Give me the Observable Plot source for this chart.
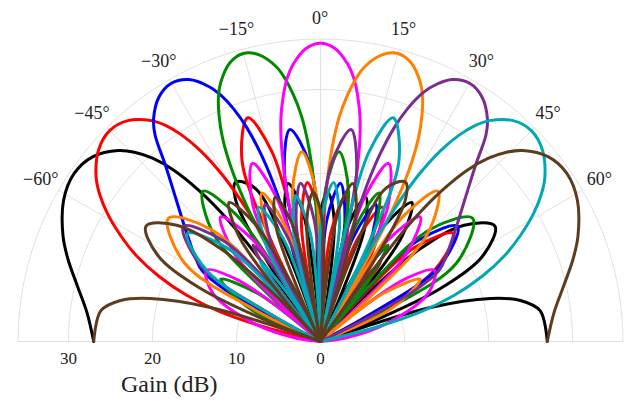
<!DOCTYPE html>
<html><head><meta charset="utf-8">
<script src="https://cdn.jsdelivr.net/npm/d3@7"></script>
<script src="https://cdn.jsdelivr.net/npm/@observablehq/plot@0.6"></script>
<style>html,body{margin:0;padding:0;background:#fff}</style>
</head><body><div id="chart"></div>
<script>
// Steering directions (degrees) of the nine beams
const beamAngles = [-60, -45, -30, -15, 0, 15, 30, 45, 60];
const beamColors = ["#000000", "#ff0000", "#0000ff", "#008a00", "#ff00ff", "#ff7f00", "#7b2d8e", "#00a8b5", "#5e3c1e"];

// Each beam: [angle (deg), gain (dB, clipped at 0)]
const beamM60 = [[90,27],[82,26.4],[78.4,24.3],[75.8,20.9],[72.8,13.7],[70.5,0],
[68.5,8],[66,16],[62,22],[56.5,24.9],[51,22],[47,16],[44.5,8],[43,0],
[40.8,7],[37.7,16],[33.3,19.8],[29.1,16],[26.4,7],[25.1,0],
[23.8,5.6],[21.2,14.6],[17.4,18],[13.7,14.6],[11.2,5.6],[10,0],
[8.9,5.6],[6.4,14.6],[2.8,17.8],[-0.8,14.6],[-3.2,5.6],[-4.4,0],
[-5.5,7],[-8,16],[-11.6,19.2],[-15.3,16],[-17.8,7],[-19,0],
[-20.2,10.7],[-22.9,19.7],[-28,21.5],[-30.9,19.7],[-33.8,10.7],[-35.2,0],
[-35.9,8.1],[-37.3,18.1],[-38.8,23],[-40.6,26.9],[-42.5,29.6],[-44.5,31.6],[-46.6,33.1],[-50.9,34.9],[-55.7,35.5],[-61.2,34.9],[-67.8,33.1],[-72,31.6],[-77.4,29.6],[-83,28],[-90,27]];

const beamM45 = [[90,0],[63,0],[61.6,5.8],[58.2,15.8],[51,20.4],[45,15.8],[42.2,5.8],[41,0],
[40.5,1],[39.4,7.4],[37,12],[34.6,7.4],[33.5,1],[33,0],
[31.9,3],[29.6,13],[24.7,17.6],[19.9,13],[17.9,3],[17,0],
[16.1,3],[14.1,13],[9.7,17.6],[5.4,13],[3.4,3],[2.5,0],
[1.6,4.4],[-0.4,14.4],[-4.7,19],[-9.1,14.4],[-11.1,4.4],[-12,0],
[-12.7,13.4],[-14.4,23.4],[-18,28],[-23.5,23.4],[-26.1,13.4],[-27.2,0],
[-27.9,8.1],[-29.2,18.1],[-30.5,23],[-32.2,26.9],[-33.9,29.6],[-35.6,31.6],[-37.4,33.1],[-41.1,34.9],[-45,35.5],[-49.2,34.9],[-53.8,33.1],[-56.3,31.6],[-59,29.6],[-62,27],[-65,24.2],[-68,20.8],[-71,16.8],[-73.5,12.5],[-75.5,7],[-76.5,0],[-90,0]];

const beamM30 = [[90,0],[63,0],[61.4,6.7],[57.8,16.7],[50,21.3],[44,16.7],[41.2,6.7],[40,0],
[39.4,1],[38,9.4],[35,14],[32,9.4],[30.6,1],[30,0],
[29,3],[26.8,13],[22,17.6],[17.5,13],[15.4,3],[14.5,0],
[13.6,4.4],[11.6,14.4],[7.2,19],[2.9,14.4],[0.9,4.4],[0,0],
[-1,10.9],[-3.3,20.9],[-8.2,25.5],[-11.9,20.9],[-13.7,10.9],[-14.5,0],
[-15.1,8.1],[-16.3,18.1],[-17.5,23],[-19,26.9],[-20.5,29.6],[-22,31.6],[-23.6,33.1],[-26.7,34.9],[-30,35.5],[-33.4,34.9],[-36.9,33.1],[-38.7,31.5],[-41.3,28],[-45.6,24],[-51,20.5],[-56,18],[-59,16.5],[-61.5,13],[-63.5,6],[-64.5,0],[-90,0]];

const beamM15 = [[90,0],[66,0],[64.2,8.7],[60,18.7],[51,23.3],[44.4,18.7],[41.3,8.7],[40,0],
[39.4,1],[38,9.4],[35,14],[31.6,9.4],[30.1,1],[29.4,0],
[28.5,4.4],[26.2,14.4],[21.5,19],[17,14.4],[14.9,4.4],[14,0],
[13,8.1],[10.6,18.1],[5.6,22.7],[1.9,18.1],[0.2,8.1],[-0.5,0],
[-1.1,8.1],[-2.2,18.1],[-3.4,23],[-4.8,26.9],[-6.3,29.6],[-7.7,31.6],[-9.1,33.1],[-12.1,34.9],[-15,35.5],[-18,34.9],[-21,33.1],[-22.6,31.6],[-24.1,29.6],[-25.7,26.9],[-27.3,23],[-28.6,18.1],[-29.9,8.1],[-30.6,0],
[-31.5,8.1],[-33.6,18.1],[-38,22.7],[-44.8,18.1],[-48,8.1],[-49.4,0],
[-50.4,1],[-52.6,9.4],[-58,14],[-65,9.4],[-68.5,1],[-70,0],[-90,0]];

const beam0 = [[-90,0],[-82,3],[-75,8],[-66,14],[-58,16],[-53.5,12.5],[-50.2,5],[-48.6,0],
[-47.4,4.4],[-44.6,14.4],[-38.7,19],[-33.5,14.4],[-31,4.4],[-30,0],
[-28.9,8.1],[-26.4,18.1],[-20.9,22.7],[-17.1,18.1],[-15.3,8.1],[-14.5,0],
[-13.9,8.1],[-12.7,18.1],[-11.5,23],[-10.1,26.9],[-8.6,29.6],[-7.2,31.6],[-5.7,33.1],[-2.9,34.9],[0,35.5],[2.9,34.9],[5.7,33.1],[7.2,31.6],[8.6,29.6],[10.1,26.9],[11.5,23],[12.7,18.1],[13.9,8.1],[14.5,0],
[15.3,8.1],[17.1,18.1],[20.9,22.7],[26.4,18.1],[28.9,8.1],[30,0],
[31,4.4],[33.5,14.4],[38.7,19],[44.6,14.4],[47.4,4.4],[48.6,0],
[50.2,5],[53.5,12.5],[58,16],[66,14],[75,8],[82,3],[90,0]];

const beamP15 = [[-90,0],[-66,0],[-64.2,8.7],[-60,18.7],[-51,23.3],[-44.4,18.7],[-41.3,8.7],[-40,0],
[-39.4,1],[-38,9.4],[-35,14],[-31.6,9.4],[-30.1,1],[-29.4,0],
[-28.5,4.4],[-26.2,14.4],[-21.5,19],[-17,14.4],[-14.9,4.4],[-14,0],
[-13,8.1],[-10.6,18.1],[-5.6,22.7],[-1.9,18.1],[-0.2,8.1],[0.5,0],
[1.1,8.1],[2.2,18.1],[3.4,23],[4.8,26.9],[6.3,29.6],[7.7,31.6],[9.1,33.1],[12.1,34.9],[15,35.5],[18,34.9],[21,33.1],[22.6,31.6],[24.1,29.6],[25.7,26.9],[27.3,23],[28.6,18.1],[29.9,8.1],[30.6,0],
[31.5,8.1],[33.6,18.1],[38,22.7],[44.8,18.1],[48,8.1],[49.4,0],
[50.4,1],[52.6,9.4],[58,14],[65,9.4],[68.5,1],[70,0],[90,0]];

const beamP30 = [[-90,0],[-63,0],[-61.4,6.7],[-57.8,16.7],[-50,21.3],[-44,16.7],[-41.2,6.7],[-40,0],
[-39.4,1],[-38,9.4],[-35,14],[-32,9.4],[-30.6,1],[-30,0],
[-29,3],[-26.8,13],[-22,17.6],[-17.5,13],[-15.4,3],[-14.5,0],
[-13.6,4.4],[-11.6,14.4],[-7.2,19],[-2.9,14.4],[-0.9,4.4],[0,0],
[1,10.9],[3.3,20.9],[8.2,25.5],[11.9,20.9],[13.7,10.9],[14.5,0],
[15.1,8.1],[16.3,18.1],[17.5,23],[19,26.9],[20.5,29.6],[22,31.6],[23.6,33.1],[26.7,34.9],[30,35.5],[33.4,34.9],[36.9,33.1],[38.7,31.5],[41.3,28],[45.6,24],[51,20.5],[56,18],[59,16.5],[61.5,13],[63.5,6],[64.5,0],[90,0]];

const beamP45 = [[-90,0],[-63,0],[-61.6,5.8],[-58.2,15.8],[-51,20.4],[-45,15.8],[-42.2,5.8],[-41,0],
[-40.5,1],[-39.4,7.4],[-37,12],[-34.6,7.4],[-33.5,1],[-33,0],
[-31.9,3],[-29.6,13],[-24.7,17.6],[-19.9,13],[-17.9,3],[-17,0],
[-16.1,3],[-14.1,13],[-9.7,17.6],[-5.4,13],[-3.4,3],[-2.5,0],
[-1.6,4.4],[0.4,14.4],[4.7,19],[9.1,14.4],[11.1,4.4],[12,0],
[12.7,13.4],[14.4,23.4],[18,28],[23.5,23.4],[26.1,13.4],[27.2,0],
[27.9,8.1],[29.2,18.1],[30.5,23],[32.2,26.9],[33.9,29.6],[35.6,31.6],[37.4,33.1],[41.1,34.9],[45,35.5],[49.2,34.9],[53.8,33.1],[56.3,31.6],[59,29.6],[62,27],[65,24.2],[68,20.8],[71,16.8],[73.5,12.5],[75.5,7],[76.5,0],[90,0]];

const beamP60 = [[-90,27],[-82,26.4],[-78.4,24.3],[-75.8,20.9],[-72.8,13.7],[-70.5,0],
[-68.5,8],[-66,16],[-62,22],[-56.5,24.9],[-51,22],[-47,16],[-44.5,8],[-43,0],
[-40.8,7],[-37.7,16],[-33.3,19.8],[-29.1,16],[-26.4,7],[-25.1,0],
[-23.8,5.6],[-21.2,14.6],[-17.4,18],[-13.7,14.6],[-11.2,5.6],[-10,0],
[-8.9,5.6],[-6.4,14.6],[-2.8,17.8],[0.8,14.6],[3.2,5.6],[4.4,0],
[5.5,7],[8,16],[11.6,19.2],[15.3,16],[17.8,7],[19,0],
[20.2,10.7],[22.9,19.7],[28,21.5],[30.9,19.7],[33.8,10.7],[35.2,0],
[35.9,8.1],[37.3,18.1],[38.8,23],[40.6,26.9],[42.5,29.6],[44.5,31.6],[46.6,33.1],[50.9,34.9],[55.7,35.5],[61.2,34.9],[67.8,33.1],[72,31.6],[77.4,29.6],[83,28],[90,27]];

// Axes
const gainTicks = [0, 10, 20, 30];
const gridRadii = [10, 20, 30, 36];
const gridAngles = [-90, -60, -45, -30, -15, 0, 15, 30, 45, 60, 90];
const angleTicks = [-60, -45, -30, -15, 0, 15, 30, 45, 60];
const gainLabel = "Gain (dB)";

const rad = Math.PI / 180;
const beams = [beamM60, beamM45, beamM30, beamM15, beam0, beamP15, beamP30, beamP45, beamP60];

// split each beam into lobes at its 0 dB points
const rows = [];
beams.forEach((pts, b) => {
  let seg = 0, cur = [];
  pts.forEach(([a, g], i) => {
    cur.push({beam: b, seg, angle: a, gain: g});
    if (g === 0 && i > 0) {
      if (cur.length > 2) rows.push(...cur);
      seg++;
      cur = [{beam: b, seg, angle: a, gain: g}];
    }
  });
  if (cur.length > 1) rows.push(...cur);
});

const arcRows = gridRadii.flatMap(r => d3.range(-90, 90.01, 1).map(a => ({r, angle: a})));
const serif = "'Liberation Serif', 'DejaVu Serif', serif";
const k = 8.4; // pixels per dB

const chart = Plot.plot({
  width: 624, height: 402,
  marginTop: 0, marginRight: 0, marginBottom: 0, marginLeft: 0,
  x: {domain: [-320 / k, 304 / k], range: [0, 624], axis: null},
  y: {domain: [-61 / k, 341 / k], range: [402, 0], axis: null},
  color: {type: "identity"},
  style: {background: "#fff", overflow: "visible"},
  marks: [
    Plot.line(arcRows, {x: d => d.r * Math.sin(d.angle * rad), y: d => d.r * Math.cos(d.angle * rad), z: "r", stroke: "#dcdcdc", strokeWidth: 0.9}),
    Plot.link(gridAngles, {x1: 0, y1: 0, x2: a => 36 * Math.sin(a * rad), y2: a => 36 * Math.cos(a * rad), stroke: "#dcdcdc", strokeWidth: 0.9}),
    Plot.line(rows, {
      x: d => d.gain * Math.sin(d.angle * rad),
      y: d => d.gain * Math.cos(d.angle * rad),
      z: d => d.beam + "-" + d.seg,
      stroke: d => beamColors[d.beam],
      strokeWidth: 3, curve: "catmull-rom", strokeLinejoin: "round", strokeLinecap: "round"
    }),
    Plot.text(angleTicks, {
      x: a => 38.4 * Math.sin(a * rad), y: a => 38.4 * Math.cos(a * rad),
      dx: a => 4.5 * Math.sin(2 * a * rad) - (a < 0 ? 4 : 0),
      dy: a => -8 * Math.sin(a * rad) ** 2,
      text: a => (a < 0 ? "\u2212" : "") + Math.abs(a) + "\u00b0",
      fontSize: 18, fontFamily: serif, fill: "#222", textAnchor: "middle", lineAnchor: "middle"
    }),
    Plot.text(gainTicks, {x: g => -g, y: 0, dy: 17, text: g => String(g), fontSize: 17, fontFamily: serif, fill: "#222", lineAnchor: "middle"}),
    Plot.text([gainLabel], {x: -18, y: 0, dy: 43, text: d => d, fontSize: 24, fontFamily: serif, fill: "#222", lineAnchor: "middle"})
  ]
});
document.getElementById("chart").appendChild(chart);
</script>
</body></html>
